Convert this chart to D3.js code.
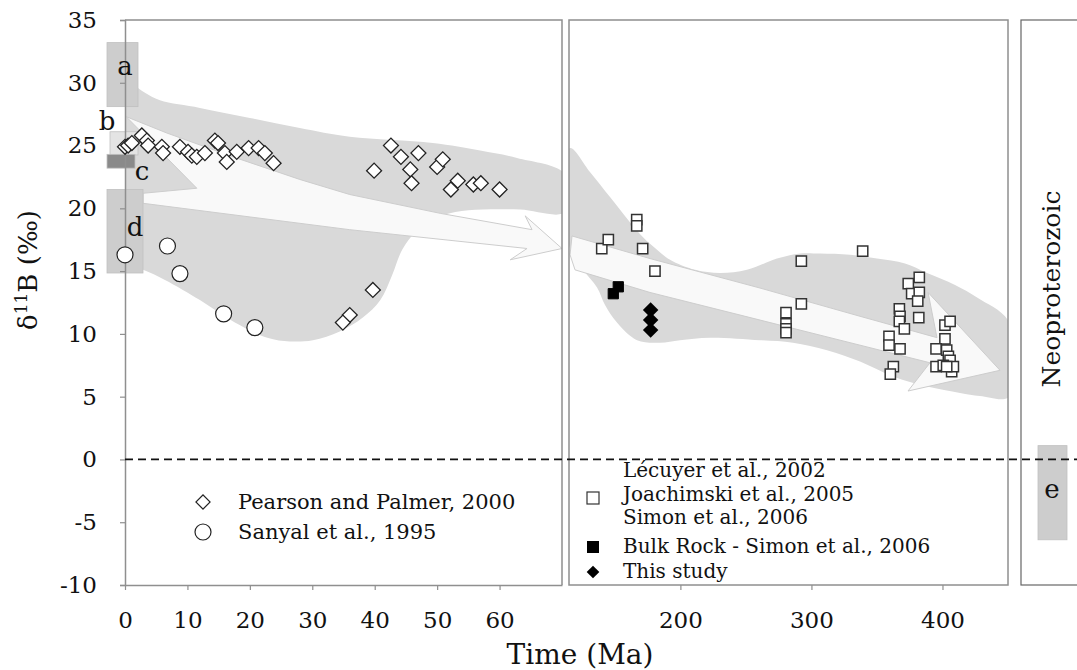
<!DOCTYPE html>
<html><head><meta charset="utf-8">
<script src="https://cdn.jsdelivr.net/npm/d3@7"></script>
<style>
body{margin:0;background:#fff}
svg{display:block}
text{font-family:"DejaVu Serif",serif;fill:#111}
</style>
</head><body>
<svg id="chart" width="1077" height="670"></svg>
<script>
// ---------- data (time in Ma, delta11B in permil) ----------
const pearsonPalmer = [
  [0,24.9],[0.5,25.0],[1.1,25.2],[2.7,25.8],[3.5,25.4],[3.7,25.0],[5.9,24.9],[6.1,24.4],
  [8.8,24.9],[10.1,24.5],[10.7,24.2],[11.5,24.1],[12.8,24.4],[14.4,25.4],[14.9,25.2],
  [16.0,24.4],[16.3,23.7],[17.9,24.5],[19.8,24.8],[21.4,24.8],[22.4,24.4],[23.8,23.6],
  [39.9,23.0],[42.6,25.0],[44.2,24.1],[45.7,23.1],[45.9,22.0],[47.0,24.4],[50.0,23.3],
  [50.9,23.9],[52.2,21.5],[53.3,22.2],[55.8,21.9],[57.0,22.0],[60.0,21.5],
  [39.7,13.5],[36.0,11.5],[34.9,10.9]
];
const sanyal = [[0,16.3],[6.8,17.0],[8.8,14.8],[15.8,11.6],[20.8,10.5]];
const lecuyerJoachimskiSimon = [
  [140.0,16.8],[145.0,17.5],[166.7,19.1],[166.7,18.6],[171.2,16.8],[180.6,15.0],
  [292.3,15.8],[292.3,12.4],[280.6,11.7],[280.6,10.8],[280.6,10.4],[280.6,10.1],
  [339.1,16.6],[373.9,14.0],[382.3,14.5],[376.5,13.2],[382.3,13.3],[381.1,12.6],
  [367.1,12.0],[367.6,11.4],[367.1,11.0],[381.9,11.3],[370.9,10.4],[359.2,9.8],
  [359.2,9.1],[367.6,8.8],[362.5,7.4],[360.2,6.8],[401.9,10.7],[405.8,11.0],
  [401.9,9.6],[395.1,8.8],[403.2,8.7],[404.5,8.2],[405.8,7.9],[395.1,7.4],
  [400.6,7.5],[407.0,7.0],[408.3,7.4],[403.2,7.4]
];
const bulkRock = [[148.8,13.2],[152.6,13.75]];
const thisStudy = [[177.3,11.9],[177.3,11.1],[177.3,10.3]];

// envelopes and trend arrows (time, delta11B)
const cenozoicEnvelope = [
  [0,30.7],[1.3,29.9],[3.2,29.2],[5.6,28.6],[12.0,28.0],[20.0,27.2],[28.0,26.4],[36.0,25.7],
  [49.3,25.2],[56.9,24.6],[62.8,24.0],[70.5,22.7],[70.5,19.7],[63.3,19.9],[57.3,19.9],
  [52.9,19.7],[49.7,19.2],[46.5,18.1],[44.4,16.7],[42.8,14.7],[40.9,12.7],[38.1,11.3],
  [34.4,10.2],[30.1,9.5],[26.4,9.4],[22.8,9.7],[17.6,10.9],[12.0,12.7],[6.4,14.3],
  [2.9,15.1],[-0.5,15.7]
];
const cenozoicArrow = [
  [0.2,27.3],[6.7,26.0],[17.3,24.1],[28.0,22.3],[36.0,21.1],[50.5,19.6],[65.2,18.3],
  [64.1,19.4],[70.0,16.8],[61.7,15.9],[64.4,16.8],[36.0,18.3],[2.9,20.4],[2.9,21.2],[11.5,21.6]
];
const paleozoicEnvelope = [
  [115.8,24.8],[131.0,22.9],[146.3,20.9],[160.0,19.1],[171.5,17.7],[182.2,16.7],[192.1,15.9],
  [211.2,15.1],[230.2,14.85],[250.8,15.1],[273.7,16.0],[291.3,16.4],[306.5,16.4],[329.4,16.3],
  [350.0,16.0],[371.4,15.6],[388.2,14.85],[409.6,13.9],[426.4,12.9],[451,10.9],[451,5.0],
  [428.6,5.05],[413.4,5.3],[388.2,5.8],[362.3,6.6],[337.1,7.8],[311.9,8.7],[285.9,9.3],
  [260.8,9.5],[222.6,9.7],[199.7,9.5],[184.4,9.3],[166.9,9.5],[151.6,10.9],[142.5,12.3],
  [136.4,13.7],[125.7,15.1],[115.5,16.9]
];
const paleozoicArrow = [
  [117.3,17.8],[176.8,16.0],[260.8,13.65],[337.1,11.4],[395.8,9.7],[389.0,13.3],[443.9,7.1],
  [373.7,5.45],[390.5,7.7],[337.1,9.1],[260.8,11.1],[176.8,13.3],[119.6,15.1],[115.8,16.3]
];
// proxy ranges (delta11B)
const proxyBoxes = [
  {label:"a", lo:28.1, hi:33.2},
  {label:"b", lo:24.25, hi:26.1},
  {label:"c", lo:23.2, hi:24.3},
  {label:"d", lo:14.85, hi:21.5}
];
const neoproterozoicBox = {label:"e", lo:-6.4, hi:1.1};

const yTicks = [35,30,25,20,15,10,5,0,-5,-10];
const leftXTicks = [0,10,20,30,40,50,60];
const rightXTicks = [200,300,400];
const leftLegend = ["Pearson and Palmer, 2000","Sanyal et al., 1995"];
const rightLegend = ["Lécuyer et al., 2002","Joachimski et al., 2005","Simon et al., 2006",
                     "Bulk Rock - Simon et al., 2006","This study"];

// ---------- layout ----------
const svg = d3.select("#chart");
const yTop = 20, yBot = 585;
const L = {x0:125, x1:562}, R = {x0:569, x1:1008}, N = {x0:1021, x1:1095};
const y = d3.scaleLinear().domain([-10,35]).range([yBot, yTop]);
const xL = d3.scaleLinear().domain([0,70]).range([L.x0, L.x1]);
const xR = d3.scaleLinear().domain([115,450]).range([R.x0, R.x1]);
const frameCol = "#8f8f8f";

const defs = svg.append("defs");
defs.append("clipPath").attr("id","clipL").append("rect")
  .attr("x",L.x0).attr("y",yTop).attr("width",L.x1-L.x0).attr("height",yBot-yTop);
defs.append("clipPath").attr("id","clipR").append("rect")
  .attr("x",R.x0).attr("y",yTop).attr("width",R.x1-R.x0).attr("height",yBot-yTop);

// envelopes
const smoothL = d3.line().x(d=>xL(d[0])).y(d=>y(d[1])).curve(d3.curveCatmullRomClosed.alpha(0.5));
const smoothR = d3.line().x(d=>xR(d[0])).y(d=>y(d[1])).curve(d3.curveCatmullRomClosed.alpha(0.5));
const polyL = d3.line().x(d=>xL(d[0])).y(d=>y(d[1])).curve(d3.curveLinearClosed);
const polyR = d3.line().x(d=>xR(d[0])).y(d=>y(d[1])).curve(d3.curveLinearClosed);

const gL = svg.append("g").attr("clip-path","url(#clipL)");
gL.append("path").attr("d",smoothL(cenozoicEnvelope)).attr("fill","#d9d9d9");
gL.append("path").attr("d",polyL(cenozoicArrow)).attr("fill","#f9f9f9")
  .attr("stroke","#cdcdcd").attr("stroke-width",1).attr("stroke-linejoin","round");
const gR = svg.append("g").attr("clip-path","url(#clipR)");
gR.append("path").attr("d",smoothR(paleozoicEnvelope)).attr("fill","#d9d9d9");
gR.append("path").attr("d",polyR(paleozoicArrow)).attr("fill","#f9f9f9")
  .attr("stroke","#cdcdcd").attr("stroke-width",1).attr("stroke-linejoin","round");

// proxy boxes (left of the left axis)
const boxGeom = {a:[107,31], b:[110,28], c:[107,28], d:[107,36]};
const boxFill = {a:"#cdcdcd", b:"#e4e4e4", c:"#8a8a8a", d:"#cdcdcd"};
proxyBoxes.forEach(b=>{
  svg.append("rect").attr("x",boxGeom[b.label][0]).attr("width",boxGeom[b.label][1])
    .attr("y",y(b.hi)).attr("height",y(b.lo)-y(b.hi))
    .attr("fill",boxFill[b.label]).attr("stroke","#c0c0c0").attr("stroke-width",0.8);
});
svg.append("rect").attr("x",1038).attr("width",29)
  .attr("y",y(neoproterozoicBox.hi)).attr("height",y(neoproterozoicBox.lo)-y(neoproterozoicBox.hi))
  .attr("fill","#cdcdcd").attr("stroke","#c0c0c0").attr("stroke-width",0.8);

// frames
svg.append("path").attr("d",`M${L.x0},${yTop}H${L.x1}V${yBot}`).attr("fill","none")
  .attr("stroke",frameCol).attr("stroke-width",1.5);
svg.append("rect").attr("x",R.x0).attr("y",yTop).attr("width",R.x1-R.x0).attr("height",yBot-yTop)
  .attr("fill","none").attr("stroke",frameCol).attr("stroke-width",1.5);
svg.append("rect").attr("x",N.x0).attr("y",yTop).attr("width",N.x1-N.x0).attr("height",yBot-yTop)
  .attr("fill","none").attr("stroke","#666").attr("stroke-width",1.2);

// axes
function styleAxis(g){
  g.select(".domain").attr("stroke",frameCol).attr("stroke-width",1.5);
  g.selectAll(".tick line").attr("stroke",frameCol).attr("stroke-width",1.2);
  g.selectAll(".tick text").attr("font-family","DejaVu Serif").attr("font-size",23).attr("fill","#111");
}
svg.append("g").attr("transform",`translate(${L.x0},0)`)
  .call(d3.axisLeft(y).tickValues(yTicks).tickSize(5).tickPadding(23).tickFormat(d=>d<0?"-"+Math.abs(d):d))
  .call(styleAxis);
svg.append("g").attr("transform",`translate(0,${yBot})`)
  .call(d3.axisBottom(xL).tickValues(leftXTicks).tickSize(5).tickPadding(22).tickSizeOuter(0))
  .call(styleAxis);
svg.append("g").attr("transform",`translate(0,${yBot})`)
  .call(d3.axisBottom(xR).tickValues(rightXTicks).tickSize(5).tickPadding(22).tickSizeOuter(0))
  .call(g=>{styleAxis(g); g.select(".domain").remove();});

// zero line
svg.append("line").attr("x1",L.x0).attr("x2",1077).attr("y1",y(0)).attr("y2",y(0))
  .attr("stroke","#111").attr("stroke-width",1.7).attr("stroke-dasharray","8,5");

// box labels
const labelPos = {a:[125,75], b:[107,130], c:[142,180], d:[135,236]};
proxyBoxes.forEach(b=>{
  svg.append("text").attr("x",labelPos[b.label][0]).attr("y",labelPos[b.label][1])
    .attr("text-anchor","middle").attr("font-size",26).text(b.label);
});
svg.append("text").attr("x",1052).attr("y",498).attr("text-anchor","middle").attr("font-size",26).text(neoproterozoicBox.label);

// markers
const diamondPath = d3.symbol().type(d3.symbolSquare).size(112)();
const sqPath = d3.symbol().type(d3.symbolSquare).size(105)();
svg.append("g").selectAll("path").data(pearsonPalmer).join("path")
  .attr("d",diamondPath).attr("transform",d=>`translate(${xL(d[0])},${y(d[1])}) rotate(45)`)
  .attr("fill","#fff").attr("stroke","#222").attr("stroke-width",1.3);
svg.append("g").selectAll("circle").data(sanyal).join("circle")
  .attr("cx",d=>xL(d[0])).attr("cy",d=>y(d[1])).attr("r",8)
  .attr("fill","#fff").attr("stroke","#222").attr("stroke-width",1.2);
svg.append("g").selectAll("path").data(lecuyerJoachimskiSimon).join("path")
  .attr("d",sqPath).attr("transform",d=>`translate(${xR(d[0])},${y(d[1])})`)
  .attr("fill","#fff").attr("stroke","#333").attr("stroke-width",1.5);
svg.append("g").selectAll("path").data(bulkRock).join("path")
  .attr("d",sqPath).attr("transform",d=>`translate(${xR(d[0])},${y(d[1])})`)
  .attr("fill","#000").attr("stroke","#000").attr("stroke-width",1);
svg.append("g").selectAll("path").data(thisStudy).join("path")
  .attr("d",d3.symbol().type(d3.symbolSquare).size(120)()).attr("transform",d=>`translate(${xR(d[0])},${y(d[1])}) rotate(45)`)
  .attr("fill","#000");

// left legend
svg.append("path").attr("d",d3.symbol().type(d3.symbolSquare).size(100)())
  .attr("transform","translate(203,502) rotate(45)").attr("fill","#fff").attr("stroke","#222").attr("stroke-width",1.2);
svg.append("circle").attr("cx",203).attr("cy",532).attr("r",8).attr("fill","#fff").attr("stroke","#222").attr("stroke-width",1.2);
svg.append("text").attr("x",238).attr("y",509).attr("font-size",21).text(leftLegend[0]);
svg.append("text").attr("x",238).attr("y",539).attr("font-size",21).text(leftLegend[1]);

// right legend
svg.append("rect").attr("x",587).attr("y",492).attr("width",12).attr("height",12)
  .attr("fill","#fff").attr("stroke","#333").attr("stroke-width",1.2);
svg.append("rect").attr("x",587).attr("y",541).attr("width",12).attr("height",12).attr("fill","#000");
svg.append("path").attr("d",d3.symbol().type(d3.symbolSquare).size(80)())
  .attr("transform","translate(593,572) rotate(45)").attr("fill","#000");
const rlY = [477,501,524,553,578];
rightLegend.forEach((t,i)=>{
  svg.append("text").attr("x",623).attr("y",rlY[i]).attr("font-size",20).text(t);
});

// axis titles
const yl = svg.append("text").attr("transform","translate(37,270) rotate(-90)")
  .attr("text-anchor","middle").attr("font-size",26);
yl.append("tspan").text("δ");
yl.append("tspan").attr("dy",-10).attr("font-size",17).text("11");
yl.append("tspan").attr("dy",10).text("B (‰)");
svg.append("text").attr("x",580).attr("y",664).attr("text-anchor","middle").attr("font-size",28).text("Time (Ma)");
svg.append("text").attr("transform","translate(1060,289) rotate(-90)")
  .attr("text-anchor","middle").attr("font-size",25).text("Neoproterozoic");
</script>
</body></html>
